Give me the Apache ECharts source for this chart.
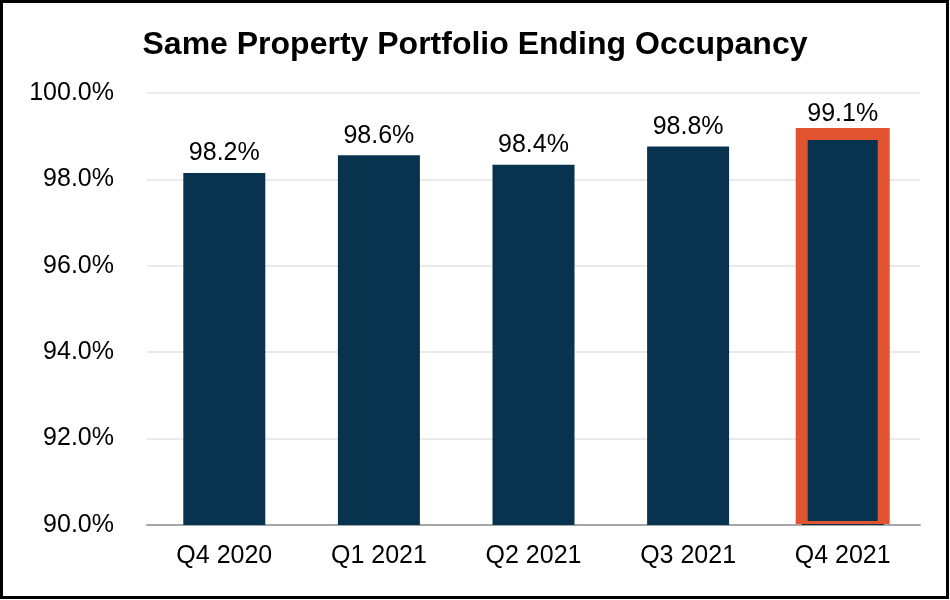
<!DOCTYPE html>
<html>
<head>
<meta charset="utf-8">
<script src="https://cdn.jsdelivr.net/npm/echarts@6/dist/echarts.min.js"></script>
<style>
html,body{margin:0;padding:0;background:#fff;}
#chart{width:950px;height:600px;}
</style>
</head>
<body>
<div id="chart"></div>
<script>
const categories = ['Q4 2020', 'Q1 2021', 'Q2 2021', 'Q3 2021', 'Q4 2021'];
const occupancy = [98.15, 98.56, 98.34, 98.76, 99.05];
const valueLabels = ['98.2%', '98.6%', '98.4%', '98.8%', '99.1%'];
const highlightIndex = 4;

const NAVY = '#08334F';
const ORANGE = '#E2532F';
const FONT = '"Liberation Sans", Arial, sans-serif';

const chart = echarts.init(document.getElementById('chart'), null, {renderer: 'canvas'});
chart.setOption({
  animation: false,
  backgroundColor: '#fff',
  title: {
    text: 'Same Property Portfolio Ending Occupancy',
    left: 'center',
    top: 24,
    textStyle: {fontFamily: FONT, fontSize: 32, fontWeight: 'bold', color: '#000'}
  },
  graphic: [{
    type: 'rect',
    shape: {x: 1.5, y: 1.5, width: 946, height: 596},
    style: {fill: 'none', stroke: '#000', lineWidth: 3},
    z: 100
  }],
  grid: {left: 147, right: 30, top: 93, bottom: 75},
  xAxis: {
    type: 'category',
    data: categories,
    axisLine: {lineStyle: {color: '#A6A6A6', width: 2}},
    axisTick: {show: false},
    axisLabel: {fontFamily: FONT, fontSize: 25, color: '#000', margin: 19}
  },
  yAxis: {
    type: 'value',
    min: 90,
    max: 100,
    interval: 2,
    axisLine: {show: false},
    axisTick: {show: false},
    splitLine: {lineStyle: {color: '#E3E3E3', width: 1.5}},
    axisLabel: {
      fontFamily: FONT, fontSize: 25, color: '#000', margin: 33,
      formatter: v => v.toFixed(1) + '%'
    }
  },
  series: [{
    type: 'bar',
    data: occupancy,
    barWidth: 82,
    itemStyle: {color: NAVY},
    label: {
      show: true,
      position: 'top',
      distance: 7,
      fontFamily: FONT,
      fontSize: 25,
      color: '#000',
      formatter: p => valueLabels[p.dataIndex]
    },
    z: 2
  }, {
    type: 'custom',
    data: [[highlightIndex, occupancy[highlightIndex]]],
    z: 3,
    renderItem: function (params, api) {
      const top = api.coord([api.value(0), api.value(1)]);
      const base = api.coord([api.value(0), 90]);
      const outerW = 94, border = 12, bottomB = 3;
      const y0 = top[1] - border / 2;
      const h = base[1] - y0 - 1;
      return {
        type: 'group',
        children: [{
          type: 'rect',
          shape: {x: top[0] - outerW / 2, y: y0, width: outerW, height: h},
          style: {fill: ORANGE}
        }, {
          type: 'rect',
          shape: {x: top[0] - outerW / 2 + border, y: y0 + border, width: outerW - 2 * border, height: h - border - bottomB},
          style: {fill: NAVY}
        }]
      };
    }
  }]
});
</script>
</body>
</html>
